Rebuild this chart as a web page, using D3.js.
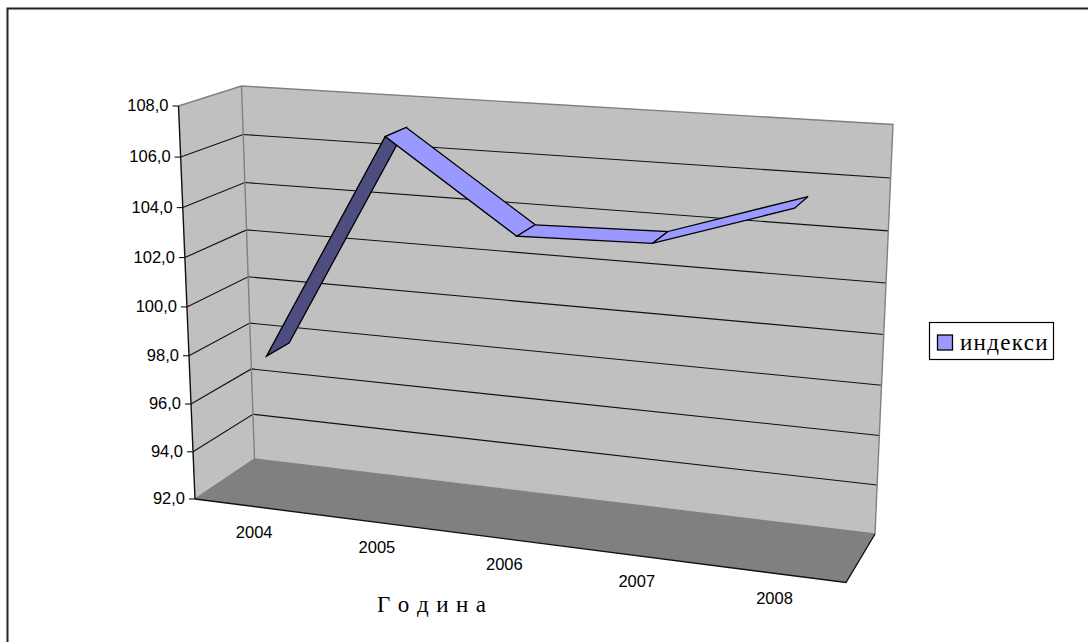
<!DOCTYPE html>
<html><head><meta charset="utf-8">
<script src="https://cdn.jsdelivr.net/npm/d3@7"></script>
<style>html,body{margin:0;padding:0;background:#fff}svg{display:block}</style>
</head><body><svg id="c" width="1088" height="642"></svg>
<script>
const years = ["2004","2005","2006","2007","2008"];
const indexValues = [97.85, 107.07, 103.6, 103.75, 105.48];
const seriesName = "индекси";
const axisTitle = "Г о д и н а";
const yTicks = [92,94,96,98,100,102,104,106,108];
const yDomain = [92,108];

// Frame of the 3D box: [lower-left, lower-right, upper-right, upper-left]
const frontQuad = [[195,499],[846,582.5],[861,152],[178.5,106]];
const backQuad  = [[254.5,459],[875,534],[893,124.5],[241.5,86]];

function homography(q){
  const [[x0,y0],[x1,y1],[x2,y2],[x3,y3]] = q;
  const dx1=x1-x2,dx2=x3-x2,sx=x0-x1+x2-x3,dy1=y1-y2,dy2=y3-y2,sy=y0-y1+y2-y3;
  const den=dx1*dy2-dx2*dy1, g=(sx*dy2-dx2*sy)/den, h=(dx1*sy-sx*dy1)/den;
  const a=x1-x0+g*x1,b=x3-x0+h*x3,d=y1-y0+g*y1,e=y3-y0+h*y3;
  return (u,v)=>{const w=g*u+h*v+1;return [(a*u+b*v+x0)/w,(d*u+e*v+y0)/w];};
}
const front=homography(frontQuad), back=homography(backQuad);
const project=(u,v,w)=>{const f=front(u,v),b=back(u,v);return [f[0]+(b[0]-f[0])*w,f[1]+(b[1]-f[1])*w];};

const uScale=d3.scalePoint().domain(years).range([0,1]).padding(0.5);
const vScale=d3.scaleLinear().domain(yDomain).range([0,1]);
const ribbon=[0.29,0.68];

const svg=d3.select("#c");
const line=d3.line();
const SANS="'Liberation Sans',Arial,sans-serif", SERIF="'Liberation Serif','Times New Roman',serif";

// chart-area border (top and left edges visible)
svg.append("path").attr("d",line([[7.5,642],[7.5,8.5],[1088,8.5]])).attr("fill","none").attr("stroke","#222").attr("stroke-width",2);

// walls and floor
svg.append("path").attr("d",line([front(0,0),back(0,0),back(0,1),front(0,1)])+"Z").attr("fill","#C0C0C0").attr("stroke","none");
svg.append("path").attr("d",line([back(0,0),back(1,0),back(1,1),back(0,1)])+"Z").attr("fill","#C0C0C0").attr("stroke","none");
svg.append("path").attr("d",line([front(0,0),front(1,0),back(1,0),back(0,0)])+"Z").attr("fill","#808080").attr("stroke","none");

// gridlines
const inner=yTicks.slice(1,-1);
svg.selectAll(".g").data(inner).join("path").attr("fill","none").attr("stroke","#111").attr("stroke-width",1.1)
  .attr("d",t=>line([front(0,vScale(t)),back(0,vScale(t)),back(1,vScale(t))]));

// wall edges
const edge=(pts,col)=>svg.append("path").attr("d",line(pts)).attr("fill","none").attr("stroke",col).attr("stroke-width",1.4);
edge([front(0,1),back(0,1),back(1,1),back(1,0)],"#808080");
edge([back(0,1),back(0,0)],"#808080");
edge([front(0,0),back(0,0),back(1,0)],"#808080");

// axes front edges
edge([front(0,1),front(0,0)],"#111");
edge([front(0,0),front(1,0),back(1,0)],"#111");
svg.selectAll(".t").data(yTicks).join("path").attr("fill","none").attr("stroke","#111").attr("stroke-width",1.1)
  .attr("d",t=>{const p=front(0,vScale(t));return line([[p[0]-6,p[1]],p]);});
svg.selectAll(".yl").data(yTicks).join("text").attr("font-family",SANS).attr("font-size",16.5).attr("fill","#000")
  .attr("text-anchor","end").attr("x",t=>front(0,vScale(t))[0]-10).attr("y",t=>front(0,vScale(t))[1]+5)
  .text(t=>d3.format(".1f")(t).replace(".",","));

// category labels
svg.selectAll(".xl").data(years).join("text").attr("font-family",SANS).attr("font-size",16.5).attr("fill","#000")
  .attr("text-anchor","middle").attr("x",d=>front(uScale(d),0)[0]-0.5).attr("y",d=>front(uScale(d),0)[1]+31)
  .text(d=>d);

// series ribbon
const pts=years.map((d,i)=>({u:uScale(d),v:vScale(indexValues[i])}));
d3.pairs(pts).forEach(([a,b])=>{
  const q=[project(a.u,a.v,ribbon[0]),project(a.u,a.v,ribbon[1]),project(b.u,b.v,ribbon[1]),project(b.u,b.v,ribbon[0])];
  const under=d3.polygonArea(q)>0;
  svg.append("path").attr("d",line(q)+"Z").attr("fill",under?"#4D4D80":"#9999FF")
    .attr("stroke","#000").attr("stroke-width",1.3).attr("stroke-linejoin","miter");
});

// axis title
svg.append("text").attr("x",432).attr("y",612).attr("text-anchor","middle").attr("font-family",SERIF).attr("font-size",23).attr("letter-spacing",0.9).attr("fill","#000").text(axisTitle);

// legend
svg.append("rect").attr("x",929.5).attr("y",322.5).attr("width",124).attr("height",37).attr("fill","#fff").attr("stroke","#000").attr("stroke-width",1.2);
svg.append("rect").attr("x",937.5).attr("y",335).attr("width",15).attr("height",15).attr("fill","#9999FF").attr("stroke","#000").attr("stroke-width",1.3);
svg.append("text").attr("x",960).attr("y",350).attr("font-family",SERIF).attr("font-size",23).attr("letter-spacing",1.3).attr("fill","#000").text(seriesName);
</script></body></html>
